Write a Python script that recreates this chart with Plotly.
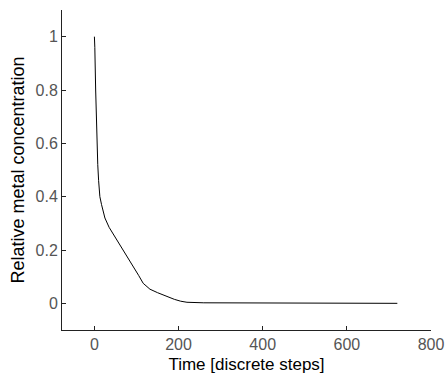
import plotly.graph_objects as go

# Data
time_steps = [0, 1, 3, 5, 8, 10, 13, 17, 25, 35, 45, 55, 69, 80, 92, 105, 116, 132,
              150, 172, 190, 205, 220, 260, 720]
concentration = [1.0, 0.96, 0.80, 0.65, 0.52, 0.46, 0.40, 0.37, 0.32, 0.285, 0.26, 0.235,
                 0.20, 0.17, 0.138, 0.105, 0.075, 0.053, 0.04, 0.025, 0.015, 0.008,
                 0.004, 0.002, 0.0]

x_ticks = [0, 200, 400, 600, 800]
x_tick_labels = ["0", "200", "400", "600", "800"]
y_ticks = [0, 0.2, 0.4, 0.6, 0.8, 1.0]
y_tick_labels = ["0", "0.2", "0.4", "0.6", "0.8", "1"]

fig = go.Figure()
fig.add_trace(go.Scatter(
    x=time_steps, y=concentration, mode="lines",
    line=dict(color="black", width=1),
    showlegend=False,
))

font_family = "Liberation Sans, Arial, sans-serif"

fig.update_layout(
    width=447, height=376,
    margin=dict(l=62, r=16, t=10, b=46),
    paper_bgcolor="white", plot_bgcolor="white",
    font=dict(family=font_family, color="#333333", size=16),
)
fig.update_xaxes(
    range=[-77, 800], automargin=False,
    tickvals=x_ticks, ticktext=x_tick_labels,
    ticks="inside", ticklen=4, tickcolor="#222222", tickwidth=1,
    showline=True, linecolor="#222222", linewidth=1,
    showgrid=False, zeroline=False,
    tickfont=dict(size=16, color="#555555"),
    title=dict(text="Time [discrete steps]", font=dict(size=17, color="black"), standoff=5),
)
fig.update_yaxes(
    range=[-0.1, 1.1], automargin=False,
    tickvals=y_ticks, ticktext=y_tick_labels,
    ticks="inside", ticklen=4, tickcolor="#222222", tickwidth=1,
    showline=True, linecolor="#222222", linewidth=1,
    showgrid=False, zeroline=False,
    tickfont=dict(size=16, color="#555555"),
    title=dict(text="Relative metal concentration", font=dict(size=18, color="black"), standoff=6),
)

fig.write_html("out.html")
